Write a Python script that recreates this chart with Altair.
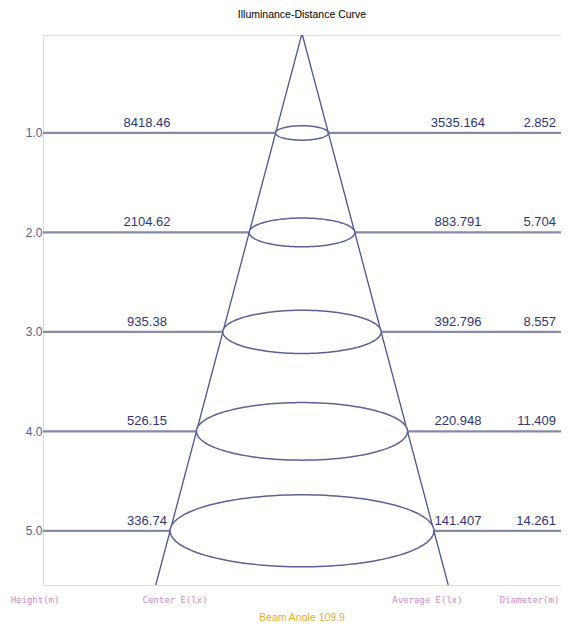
import altair as alt
import numpy as np
import pandas as pd

heights = [1.0, 2.0, 3.0, 4.0, 5.0]
center_lux = ["8418.46", "2104.62", "935.38", "526.15", "336.74"]
average_lux = ["3535.164", "883.791", "392.796", "220.948", "141.407"]
diameters = [2.852, 5.704, 8.557, 11.409, 14.261]
beam_angle = 109.9
bottom_labels = ["Height(m)", "Center E(lx)", "Average E(lx)", "Diameter(m)"]

# layout constants (styles/positions)
Y_DOM = [0.015, 5.545]
X_DOM = [-14.0, 14.0]
K = 0.0724  # ellipse perspective squash (vertical semi-axis per metre of height)
FONT = "Liberation Sans"

xs = alt.Scale(domain=X_DOM)
ys = alt.Scale(domain=Y_DOM, reverse=True)

# ---- data tables
rows = pd.DataFrame({"h": heights, "c": center_lux, "a": average_lux,
                     "d": [f"{v:.3f}" for v in diameters]})
rows["xc"] = -8.38
rows["xa"] = 8.43
rows["xd"] = 13.73

half = np.tan(np.radians(beam_angle / 2))
cone = pd.DataFrame({
    "x": [0.0, -half * Y_DOM[1], 0.0, half * Y_DOM[1]],
    "y": [0.0, Y_DOM[1], 0.0, Y_DOM[1]],
    "side": ["L", "L", "R", "R"],
    "i": [0, 1, 0, 1],
})

ell_rows, fill_rows = [], []
for h, d in zip(heights, diameters):
    t = np.linspace(0, 2 * np.pi, 145)
    for i, tt in enumerate(t):
        ell_rows.append({"h": h, "i": i, "x": d / 2 * np.cos(tt), "y": h + K * h * np.sin(tt)})
    for tt in np.linspace(0, np.pi, 91):
        fill_rows.append({"h": h, "x": d / 2 * np.cos(tt),
                          "y1": h - K * h * np.sin(tt), "y2": h + K * h * np.sin(tt)})
ell = pd.DataFrame(ell_rows)
fill = pd.DataFrame(fill_rows)

bl = pd.DataFrame({"t": bottom_labels, "x": [-14.43, -6.86, 6.78, 12.3], "y": [5.70] * 4})
ba = pd.DataFrame({"t": [f"Beam Angle {beam_angle}"], "x": [0.0], "y": [5.875]})

# ---- layers
hlines = alt.Chart(rows).mark_rule(color="#858aa8", strokeWidth=2.2).encode(
    y=alt.Y("h:Q", scale=ys, axis=alt.Axis(values=heights, format=".1f", title=None,
                                            ticks=False, domain=False, grid=False,
                                            labelPadding=1, labelFontSize=12,
                                            labelColor="#55608f", labelFont=FONT))
)

cone_l = alt.Chart(cone).mark_line(color="#4d5391", strokeWidth=1.3, clip=True).encode(
    x=alt.X("x:Q", scale=xs, axis=None),
    y=alt.Y("y:Q", scale=ys),
    detail="side:N",
    order="i:Q",
)

ell_fill = alt.Chart(fill).mark_area(color="white", opacity=1).encode(
    x=alt.X("x:Q", scale=xs, axis=None),
    y=alt.Y("y1:Q", scale=ys),
    y2="y2:Q",
    detail="h:N",
)

ell_line = alt.Chart(ell).mark_line(color="#5c6196", strokeWidth=1.5).encode(
    x=alt.X("x:Q", scale=xs, axis=None),
    y=alt.Y("y:Q", scale=ys),
    detail="h:N",
    order="i:Q",
)

txt_style = dict(font=FONT, fontSize=13, color="#2e3577", baseline="bottom", dy=-3)
t_c = alt.Chart(rows).mark_text(align="center", **txt_style).encode(
    x=alt.X("xc:Q", scale=xs), y=alt.Y("h:Q", scale=ys), text="c:N")
t_a = alt.Chart(rows).mark_text(align="center", **txt_style).encode(
    x=alt.X("xa:Q", scale=xs), y=alt.Y("h:Q", scale=ys), text="a:N")
t_d = alt.Chart(rows).mark_text(align="right", **txt_style).encode(
    x=alt.X("xd:Q", scale=xs), y=alt.Y("h:Q", scale=ys), text="d:N")

t_bottom = alt.Chart(bl).mark_text(font="DejaVu Sans Mono", fontSize=9, color="#cc88c8",
                                   align="center", baseline="middle").encode(
    x=alt.X("x:Q", scale=xs), y=alt.Y("y:Q", scale=ys), text="t:N")
t_beam = alt.Chart(ba).mark_text(font=FONT, fontSize=10.5, color="#e8b030",
                                 align="center", baseline="middle").encode(
    x=alt.X("x:Q", scale=xs), y=alt.Y("y:Q", scale=ys), text="t:N")

chart = alt.layer(hlines, cone_l, ell_fill, ell_line, t_c, t_a, t_d, t_bottom, t_beam).properties(
    width=518, height=550,
    autosize=alt.AutoSizeParams(type="none"),
    padding={"left": 35, "top": 27, "right": 0, "bottom": 37},
    title=alt.Title("Illuminance-Distance Curve", fontSize=10.5, font=FONT, color="black",
                    fontWeight="normal", offset=15, anchor="middle"),
).configure_view(stroke="#c6ccbf", strokeWidth=1.5).configure(background="white")

chart.save("out.html", embed_options={"renderer": "svg", "actions": False})
